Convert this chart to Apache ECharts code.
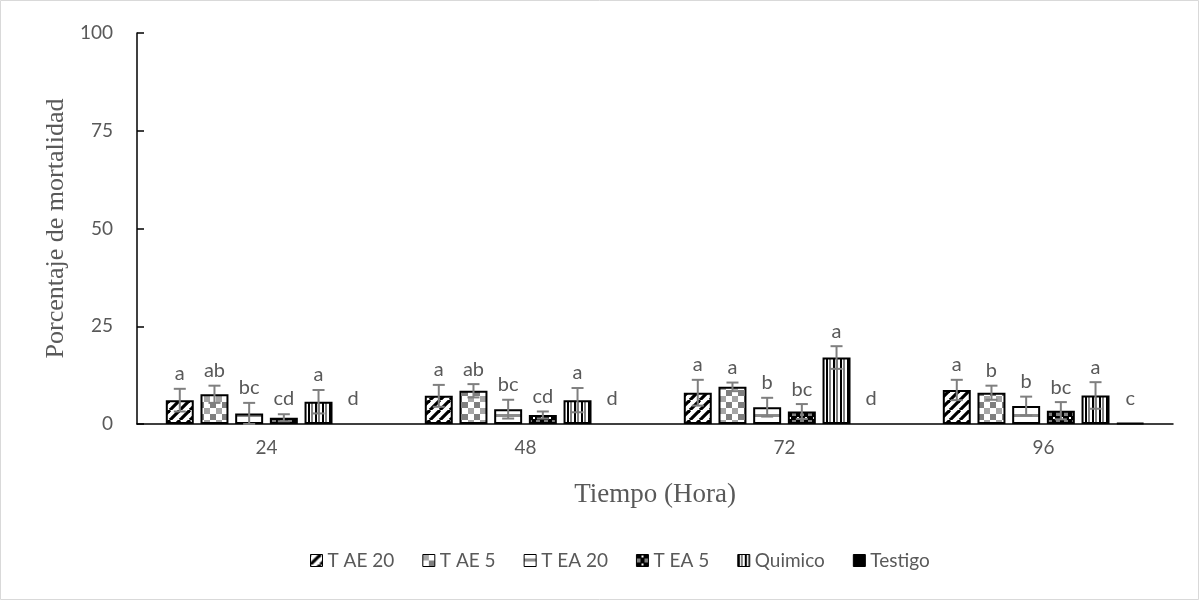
<!DOCTYPE html>
<html><head><meta charset="utf-8">
<script src="https://cdn.jsdelivr.net/npm/echarts@6/dist/echarts.min.js"></script>
<style>html,body{margin:0;padding:0;background:#fff}#c{width:1200px;height:601px}</style>
</head><body><div id="c"></div>
<script>
const categories = ['24', '48', '72', '96'];
const seriesNames = ['T AE 20', 'T AE 5', 'T EA 20', 'T EA 5', 'Quimico', 'Testigo'];
const valsAE20 = [6.1, 7.2, 8.0, 8.7];
const valsAE5 = [7.6, 8.5, 9.5, 8.0];
const valsEA20 = [2.7, 3.8, 4.3, 4.6];
const valsEA5 = [1.6, 2.3, 3.2, 3.4];
const valsQuimico = [5.7, 6.1, 17.0, 7.3];
const valsTestigo = [0, 0, 0, 0.3];
const errAE20 = [2.9, 2.8, 3.3, 2.6];
const errAE5 = [2.2, 1.7, 1.1, 1.8];
const errEA20 = [2.7, 2.4, 2.4, 2.4];
const errEA5 = [0.9, 0.9, 1.9, 2.2];
const errQuimico = [3.0, 3.1, 2.9, 3.4];
const errTestigo = [0, 0, 0, 0];
const lettersAE20 = ['a', 'a', 'a', 'a'];
const lettersAE5 = ['ab', 'ab', 'a', 'b'];
const lettersEA20 = ['bc', 'bc', 'b', 'b'];
const lettersEA5 = ['cd', 'cd', 'bc', 'bc'];
const lettersQuimico = ['a', 'a', 'a', 'a'];
const lettersTestigo = ['d', 'd', 'd', 'c'];
const yTicks = [0, 25, 50, 75, 100];

const allVals = [valsAE20, valsAE5, valsEA20, valsEA5, valsQuimico, valsTestigo];
const allErr = [errAE20, errAE5, errEA20, errEA5, errQuimico, errTestigo];
const allLetters = [lettersAE20, lettersAE5, lettersEA20, lettersEA5, lettersQuimico, lettersTestigo];

function pat(w, h, draw) {
  const c = document.createElement('canvas');
  c.width = w; c.height = h;
  const g = c.getContext('2d');
  g.fillStyle = '#fff'; g.fillRect(0, 0, w, h);
  draw(g);
  return { image: c, repeat: 'repeat' };
}
const patterns = [
  pat(10, 10, g => { g.strokeStyle = '#000'; g.lineWidth = 3.2;
    for (const k of [-10, 0, 10]) { g.beginPath(); g.moveTo(k, 10); g.lineTo(k + 10, 0); g.stroke(); } }),
  pat(12, 12, g => { g.fillStyle = '#a6a6a6'; g.fillRect(0, 0, 6, 6); g.fillStyle = '#7f7f7f'; g.fillRect(6, 6, 6, 6); }),
  pat(10, 10, g => { g.fillStyle = '#8c8c8c'; g.fillRect(0, 4, 10, 3); }),
  pat(8, 8, g => { g.fillStyle = '#000'; g.fillRect(0, 0, 8, 8); g.fillStyle = '#808080'; g.fillRect(0, 4, 4, 4); g.fillStyle = '#fff'; g.fillRect(5, 1, 2, 2); }),
  pat(7, 7, g => { g.fillStyle = '#000'; g.fillRect(0, 0, 2, 7); g.fillStyle = '#808080'; g.fillRect(3, 0, 2, 7); }),
  '#000'
];

const TXT = '#595959';
const SANS = 'Lato';
const BW = 0.108, GAP = 0.24;

const series = [];
seriesNames.forEach((name, i) => {
  series.push({
    name, type: 'bar',
    data: allVals[i].map(v => v === 0 ? { value: v, itemStyle: { borderWidth: 0 } } : v),
    barWidth: (BW * 100) + '%', barGap: (GAP * 100) + '%',
    itemStyle: { color: patterns[i], borderColor: '#000', borderWidth: 2 }, z: 2
  });
});
seriesNames.forEach((name, i) => {
  series.push({
    type: 'custom', name: name + '_err', z: 5, silent: true,
    data: categories.map((c, j) => [j, allVals[i][j], allErr[i][j]]),
    encode: { x: 0, y: 1 },
    renderItem: (params, api) => {
      const j = api.value(0), v = api.value(1), e = api.value(2);
      const letter = allLetters[i][j];
      const band = api.size([1, 0])[0];
      const bw = band * BW, stride = bw * (1 + GAP);
      const x = api.coord([j, 0])[0] + (i - 2.5) * stride;
      const y0 = api.coord([j, 0])[1];
      const yTop = api.coord([j, v + e])[1];
      const yBot = api.coord([j, Math.max(v - e, 0)])[1];
      const children = [];
      if (e > 0) {
        const st = { stroke: '#7f7f7f', lineWidth: 2 };
        children.push({ type: 'line', shape: { x1: x, y1: yTop, x2: x, y2: yBot }, style: st });
        children.push({ type: 'line', shape: { x1: x - 6, y1: yTop, x2: x + 6, y2: yTop }, style: st });
        children.push({ type: 'line', shape: { x1: x - 6, y1: yBot, x2: x + 6, y2: yBot }, style: st });
      }
      const ly = Math.min(yTop - 15, y0 - 25);
      children.push({ type: 'text', style: { x: x, y: ly, text: letter, fill: TXT, font: '20px ' + SANS, textAlign: 'center', textVerticalAlign: 'middle' } });
      return { type: 'group', children };
    }
  });
});

const chart = echarts.init(document.getElementById('c'), null, { renderer: 'canvas' });
chart.setOption({
  animation: false,
  backgroundColor: '#fff',
  graphic: [{ type: 'rect', shape: { x: 0.5, y: 0.5, width: 1198, height: 599 }, style: { fill: 'none', stroke: '#d9d9d9', lineWidth: 1 }, silent: true }],
  grid: { left: 137, right: 27, top: 33, bottom: 177 },
  legend: {
    data: seriesNames, bottom: 26, left: 305, itemWidth: 12, itemHeight: 12, itemGap: 28, icon: 'rect',
    textStyle: { color: TXT, fontFamily: SANS, fontSize: 19 },
    itemStyle: { borderColor: '#000', borderWidth: 1 }
  },
  xAxis: {
    type: 'category', data: categories,
    name: 'Tiempo (Hora)', nameLocation: 'middle', nameGap: 57,
    nameTextStyle: { fontFamily: 'Liberation Serif', fontSize: 27, color: TXT },
    axisLine: { lineStyle: { color: '#000', width: 1.5 } },
    axisTick: { show: false },
    axisLabel: { color: TXT, fontFamily: SANS, fontSize: 19, margin: 14 }
  },
  yAxis: {
    type: 'value', min: yTicks[0], max: yTicks[yTicks.length - 1], interval: yTicks[1] - yTicks[0],
    name: 'Porcentaje de mortalidad', nameLocation: 'middle', nameGap: 66, nameRotate: 90,
    nameTextStyle: { fontFamily: 'Liberation Serif', fontSize: 26, color: TXT },
    axisLine: { show: true, lineStyle: { color: '#000', width: 1.5 } },
    axisTick: { show: true, inside: true, length: 7, lineStyle: { color: '#000', width: 1.5 } },
    splitLine: { show: false },
    axisLabel: { color: TXT, fontFamily: SANS, fontSize: 19, margin: 24 }
  },
  series
});
</script></body></html>
